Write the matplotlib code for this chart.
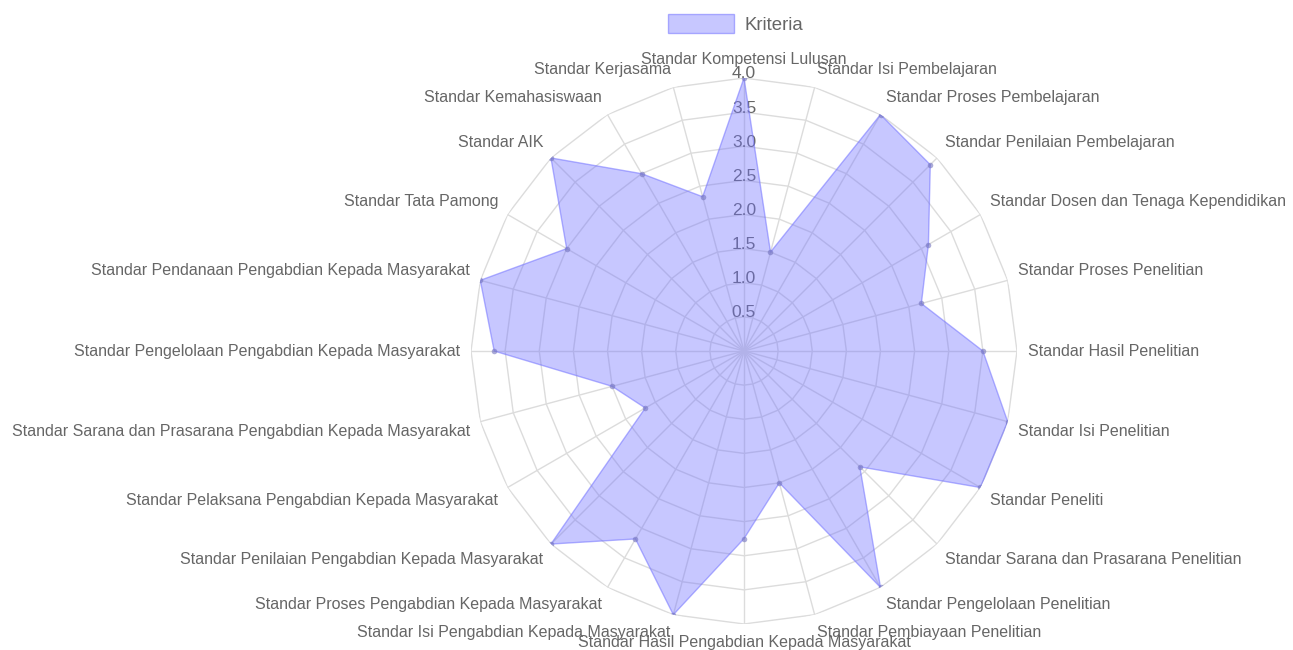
import matplotlib
matplotlib.use("Agg")
import matplotlib.pyplot as plt
import numpy as np
from matplotlib.patches import Patch

plt.rcParams["font.family"] = ["Liberation Sans", "DejaVu Sans"]

# Data
categories = [
    "Standar Kompetensi Lulusan",
    "Standar Isi Pembelajaran",
    "Standar Proses Pembelajaran",
    "Standar Penilaian Pembelajaran",
    "Standar Dosen dan Tenaga Kependidikan",
    "Standar Proses Penelitian",
    "Standar Hasil Penelitian",
    "Standar Isi Penelitian",
    "Standar Peneliti",
    "Standar Sarana dan Prasarana Penelitian",
    "Standar Pengelolaan Penelitian",
    "Standar Pembiayaan Penelitian",
    "Standar Hasil Pengabdian Kepada Masyarakat",
    "Standar Isi Pengabdian Kepada Masyarakat",
    "Standar Proses Pengabdian Kepada Masyarakat",
    "Standar Penilaian Pengabdian Kepada Masyarakat",
    "Standar Pelaksana Pengabdian Kepada Masyarakat",
    "Standar Sarana dan Prasarana Pengabdian Kepada Masyarakat",
    "Standar Pengelolaan Pengabdian Kepada Masyarakat",
    "Standar Pendanaan Pengabdian Kepada Masyarakat",
    "Standar Tata Pamong",
    "Standar AIK",
    "Standar Kemahasiswaan",
    "Standar Kerjasama",
]
kriteria = [4.0, 1.5, 4.0, 3.86, 3.12, 2.69, 3.5, 4.0, 4.0, 2.4, 4.0, 2.0,
            2.75, 4.0, 3.18, 4.0, 1.67, 2.0, 3.66, 4.0, 3.0, 4.0, 3.0, 2.34]
tick_values = [0.5, 1.0, 1.5, 2.0, 2.5, 3.0, 3.5, 4.0]
tick_labels = ["0.5", "1.0", "1.5", "2.0", "2.5", "3.0", "3.5", "4.0"]
series_name = "Kriteria"

W, H = 1293, 650
cx, cy, R = 744, 351, 273  # centre and outer radius in pixels

fig = plt.figure(figsize=(W / 100, H / 100), dpi=100)
ax = fig.add_axes([(cx - R) / W, (H - cy - R) / H, 2 * R / W, 2 * R / H],
                  projection="polar")
ax.set_theta_zero_location("N")
ax.set_theta_direction(-1)
ax.set_ylim(0, 4)
ax.grid(False)
ax.set_xticks([])
ax.set_yticks([])
ax.spines["polar"].set_visible(False)
ax.patch.set_visible(False)

n = len(categories)
theta = np.arange(n) * 2 * np.pi / n
theta_closed = np.append(theta, theta[0])

grid_col = "#dcdcdc"
# polygon grid
for lv in tick_values:
    ax.plot(theta_closed, [lv] * (n + 1), color=grid_col, lw=1, zorder=1)
# spokes
for t in theta:
    ax.plot([t, t], [0, 4], color=grid_col, lw=1, zorder=1)

# tick labels on the vertical spoke
for v, lab in zip(tick_values, tick_labels):
    ax.text(0, v + 0.06, lab, ha="center", va="center", fontsize=12.5,
            color="#666666", zorder=2)

# data polygon
vals = np.append(kriteria, kriteria[0])
ax.fill(theta_closed, vals, facecolor=(0.45, 0.45, 1.0, 0.4),
        edgecolor=(0.45, 0.45, 1.0, 0.55), lw=1, zorder=3)
ax.plot(theta, kriteria, "o", ms=4, color=(0.45, 0.45, 0.75, 0.6),
        mec="none", zorder=4)

# point labels
for t, lab in zip(theta, categories):
    deg = np.degrees(t)
    if np.isclose(deg, 0) or np.isclose(deg, 180):
        ha = "center"
    elif deg < 180:
        ha = "left"
    else:
        ha = "right"
    if np.isclose(deg, 90) or np.isclose(deg, 270):
        va = "center"
    elif deg < 90 or deg > 270:
        va = "bottom"
    else:
        va = "top"
    ax.text(t, 4.16, lab, ha=ha, va=va, fontsize=11.5, color="#666666")

# legend
handle = Patch(facecolor=(0.45, 0.45, 1.0, 0.4),
               edgecolor=(0.45, 0.45, 1.0, 0.55), label=series_name)
fig.legend(handles=[handle], loc="center", bbox_to_anchor=(735.5 / W, 1 - 24 / H),
           frameon=False, fontsize=13.4, handlelength=3.55, handleheight=1.13,
           handletextpad=0.54, borderaxespad=0, borderpad=0, labelcolor="#666666")

fig.savefig("out.png", dpi=100)
